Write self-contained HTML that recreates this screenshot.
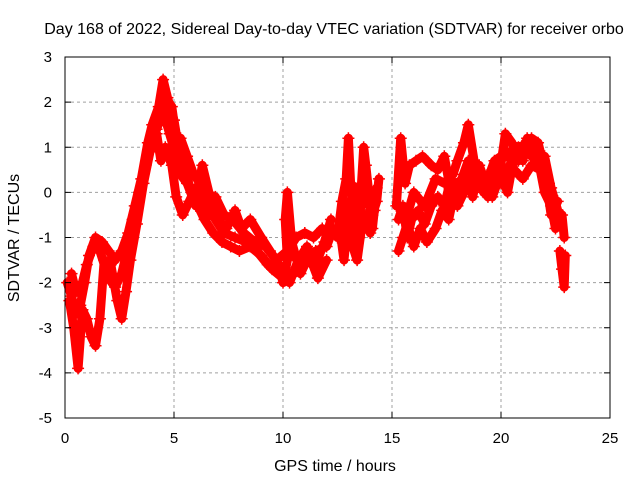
<!DOCTYPE html>
<html><head><meta charset="utf-8"><style>
body{margin:0;background:#fff;width:640px;height:480px;overflow:hidden}
svg{font-family:"Liberation Sans",sans-serif}
</style></head><body>
<svg id="chart" width="640" height="480">
<g id="grid"></g>
<g id="series"></g>
<rect x="65" y="57" width="545" height="361" fill="none" stroke="#000"/>
<g id="ticks"></g>
<text x="334" y="34" text-anchor="middle" font-size="16">Day 168 of 2022, Sidereal Day-to-day VTEC variation (SDTVAR) for receiver orbo</text>
<text x="335" y="471" text-anchor="middle" font-size="16">GPS time / hours</text>
<text transform="translate(19,238) rotate(-90)" text-anchor="middle" font-size="16">SDTVAR / TECUs</text>
</svg>
<script>
const xTicks=[0,5,10,15,20,25];
const yTicks=[3,2,1,0,-1,-2,-3,-4,-5];
const trackA=[[0.1,-2.0],[0.3,-2.3],[0.5,-2.7],[0.7,-2.5],[0.9,-2.0],[1.1,-1.4],[1.4,-1.0],[1.7,-1.1],[2.0,-1.3],[2.3,-1.5],[2.6,-1.3],[2.9,-0.9],[3.2,-0.3],[3.5,0.3],[3.8,1.1],[4.0,1.5],[4.3,1.9],[4.5,2.5],[4.7,2.1],[5.0,1.6],[5.2,1.0],[5.5,0.5],[5.8,0.0],[6.1,-0.3],[6.4,-0.6],[6.8,-0.9],[7.2,-1.1],[7.6,-1.2],[8.0,-1.3],[8.5,-1.2],[9.0,-1.4],[9.5,-1.7],[10.0,-1.9],[10.5,-1.8],[11.0,-1.6],[11.5,-1.3],[12.0,-1.2],[12.3,-0.8]];
const trackB=[[0.2,-2.4],[0.4,-3.0],[0.6,-3.9],[0.8,-2.6],[1.0,-2.8],[1.2,-3.2],[1.4,-3.4],[1.6,-2.8],[1.8,-1.5],[2.1,-1.6],[2.4,-2.4],[2.6,-2.8],[2.8,-2.2],[3.0,-1.5],[3.3,-0.7],[3.6,0.2],[3.9,0.9],[4.2,1.3],[4.4,0.7],[4.6,1.0],[4.9,0.6],[5.1,-0.1],[5.4,-0.5],[5.7,-0.2],[6.0,0.1],[6.3,-0.3],[6.6,-0.5],[6.9,-0.1],[7.3,-0.5],[7.7,-0.6],[8.2,-0.9],[8.7,-1.1],[9.2,-1.2],[9.7,-1.5],[10.2,-1.3],[10.6,-1.0],[11.0,-0.9],[11.4,-1.0],[11.8,-0.8],[12.1,-1.0]];
const trackC=[[4.2,1.4],[4.5,1.8],[4.8,1.3],[5.1,0.8],[5.3,0.4],[5.6,0.2],[6.0,-0.3],[6.3,0.6],[6.6,0.0],[7.0,-0.6],[7.4,-0.8],[7.8,-0.4],[8.1,-0.8],[8.5,-0.6],[9.0,-1.0],[9.4,-1.3],[9.8,-1.6],[10.0,-2.0],[10.2,-1.5],[10.1,-0.6],[10.2,0.0],[10.4,-1.1],[10.8,-1.8],[11.2,-1.4],[11.6,-1.9],[12.0,-1.5]];
const trackC2=[[0.3,-1.8],[0.5,-2.2],[0.8,-2.0],[1.0,-1.6],[1.3,-1.2],[1.6,-1.3],[2.0,-1.9],[2.3,-2.1],[2.6,-1.8],[2.9,-1.2],[3.1,-0.6],[3.4,0.0],[3.7,0.6],[4.0,1.2],[4.3,1.6],[4.6,2.1],[4.9,1.9],[5.1,1.2],[5.3,1.2],[5.6,0.8],[5.9,0.4],[6.2,0.2],[6.5,-0.2],[6.9,-0.6],[7.3,-0.9],[7.8,-1.0],[8.3,-1.1],[8.8,-1.3],[9.3,-1.6],[9.8,-1.8],[10.3,-2.0],[10.7,-1.5],[11.1,-1.2],[11.5,-1.6],[11.9,-1.1],[12.2,-0.6]];
const trackD=[[12.5,-1.0],[12.7,-0.2],[12.9,0.3],[13.0,1.2],[13.1,0.2],[13.3,-0.7],[13.4,-0.3],[13.5,-1.0],[13.6,0.2],[13.7,1.0],[13.8,0.6],[14.0,-0.3],[14.1,-0.5],[14.3,-0.2],[14.4,0.3]];
const trackE=[[12.6,-0.8],[12.8,-1.5],[13.0,-0.5],[13.2,-1.2],[13.4,-1.5],[13.6,-0.8],[13.8,-0.5],[14.0,-0.9],[14.2,-0.4]];
const trackE2=[[12.7,-0.5],[12.9,-0.9],[13.1,-0.2],[13.3,0.1],[13.5,-0.4],[13.7,-0.2],[13.9,0.0],[14.1,-0.8],[14.3,0.1]];
const trackF=[[15.3,-1.3],[15.5,-1.0],[15.7,-0.7],[16.0,-1.2],[16.3,-0.8],[16.6,-1.1],[17.0,-0.8],[17.3,-0.4],[17.6,-0.6],[17.9,0.1],[18.2,0.3],[18.5,0.7],[18.8,0.2],[19.1,0.4],[19.4,0.3],[19.7,0.7],[20.0,0.8],[20.3,0.9],[20.6,0.5],[21.0,0.3],[21.4,0.6],[21.8,0.5],[22.0,0.0],[22.3,-0.3],[22.5,-0.8],[22.8,-0.5],[22.9,-1.0]];
const trackF2=[[15.3,-0.6],[15.5,-0.3],[15.7,-1.0],[15.9,-0.6],[16.2,-0.4],[16.5,-0.7],[16.8,-0.3],[17.1,-0.1],[17.4,-0.3],[17.7,0.3],[18.0,0.0],[18.4,0.4],[18.8,0.5],[19.2,0.0],[19.6,0.5],[20.0,0.2],[20.4,0.6],[20.8,1.0],[21.2,0.9],[21.6,0.7],[22.0,0.8],[22.3,0.1],[22.6,-0.4]];
const trackG=[[15.2,-0.3],[15.4,1.2],[15.6,0.2],[15.8,0.6],[16.1,0.7],[16.4,0.8],[16.8,0.6],[17.1,0.5],[17.4,0.8],[17.7,0.0],[18.0,-0.3],[18.3,0.0],[18.5,0.3],[18.7,-0.1],[19.0,0.6],[19.3,0.2],[19.6,-0.1],[19.9,0.3],[20.2,1.3],[20.5,1.1],[20.8,0.7],[21.1,1.1],[21.4,1.2],[21.7,1.1],[22.0,0.5],[22.3,-0.5],[22.6,-0.2]];
const trackH=[[15.7,-0.5],[16.0,0.0],[16.5,-0.3],[17.0,0.3],[17.4,0.2],[17.8,0.4],[18.0,0.7],[18.3,1.1],[18.5,1.5],[18.8,0.6],[19.1,0.3],[19.4,-0.1],[19.7,0.3],[20.0,0.4],[20.3,0.0],[20.6,0.8],[21.0,0.7],[21.2,1.2],[21.5,0.8],[21.9,0.6],[22.2,0.2]];
const trackI=[[22.7,-1.3],[22.8,-1.7],[22.9,-2.1],[22.95,-1.4]];
const tracks=[trackA,trackB,trackC,trackC2,trackD,trackE,trackE2,trackF,trackF2,trackG,trackH,trackI];
const NS='http://www.w3.org/2000/svg';
const X0=65,X1=610,Y0=57,Y1=418;
function sx(h){return X0+(h-0)/(25-0)*(X1-X0);}
function sy(v){return Y0+(3-v)/(3-(-5))*(Y1-Y0);}
function mk(t,a,p){const e=document.createElementNS(NS,t);for(const k in a)e.setAttribute(k,a[k]);p.appendChild(e);return e;}
const grid=document.getElementById('grid'),ticks=document.getElementById('ticks'),ser=document.getElementById('series');
xTicks.forEach(t=>{const x=sx(t);
 if(t>0&&t<25){const g=mk('line',{x1:x,x2:x,y1:Y0,y2:Y1,stroke:'#a0a0a0','stroke-dasharray':'3,3'},grid);
 
 }
 mk('line',{x1:x,x2:x,y1:Y1,y2:Y1-6,stroke:'#000'},ticks);
 mk('line',{x1:x,x2:x,y1:Y0,y2:Y0+6,stroke:'#000'},ticks);
 const l=mk('text',{x:x,y:443,'text-anchor':'middle','font-size':15},ticks);l.textContent=t;
 
 
});
yTicks.forEach(t=>{const y=sy(t);
 if(t<3&&t>-5){const g=mk('line',{x1:X0,x2:X1,y1:y,y2:y,stroke:'#a0a0a0','stroke-dasharray':'3,3'},grid);
 
 }
 mk('line',{x1:X0,x2:X0+6,y1:y,y2:y,stroke:'#000'},ticks);
 mk('line',{x1:X1,x2:X1-6,y1:y,y2:y,stroke:'#000'},ticks);
 const l=mk('text',{x:52,y:y+5,'text-anchor':'end','font-size':15},ticks);l.textContent=t;
 
 
});
tracks.forEach((tr,i)=>{
 const d=tr.map((p,j)=>(j?'L':'M')+sx(p[0]).toFixed(1)+','+sy(p[1]).toFixed(1)).join('');
 const pa=mk('path',{d:d,fill:'none',stroke:'#ff0000','stroke-width':9,'stroke-linejoin':'round','stroke-linecap':'round'},ser);
 
 
 tr.forEach(p=>{const x=sx(p[0]),y=sy(p[1]);
  const m=mk('path',{d:`M${x-6},${y}H${x+6}M${x},${y-6}V${y+6}`,stroke:'#ff0000','stroke-width':1.5},ser);
  
  
 });
});
</script>
</body></html>
